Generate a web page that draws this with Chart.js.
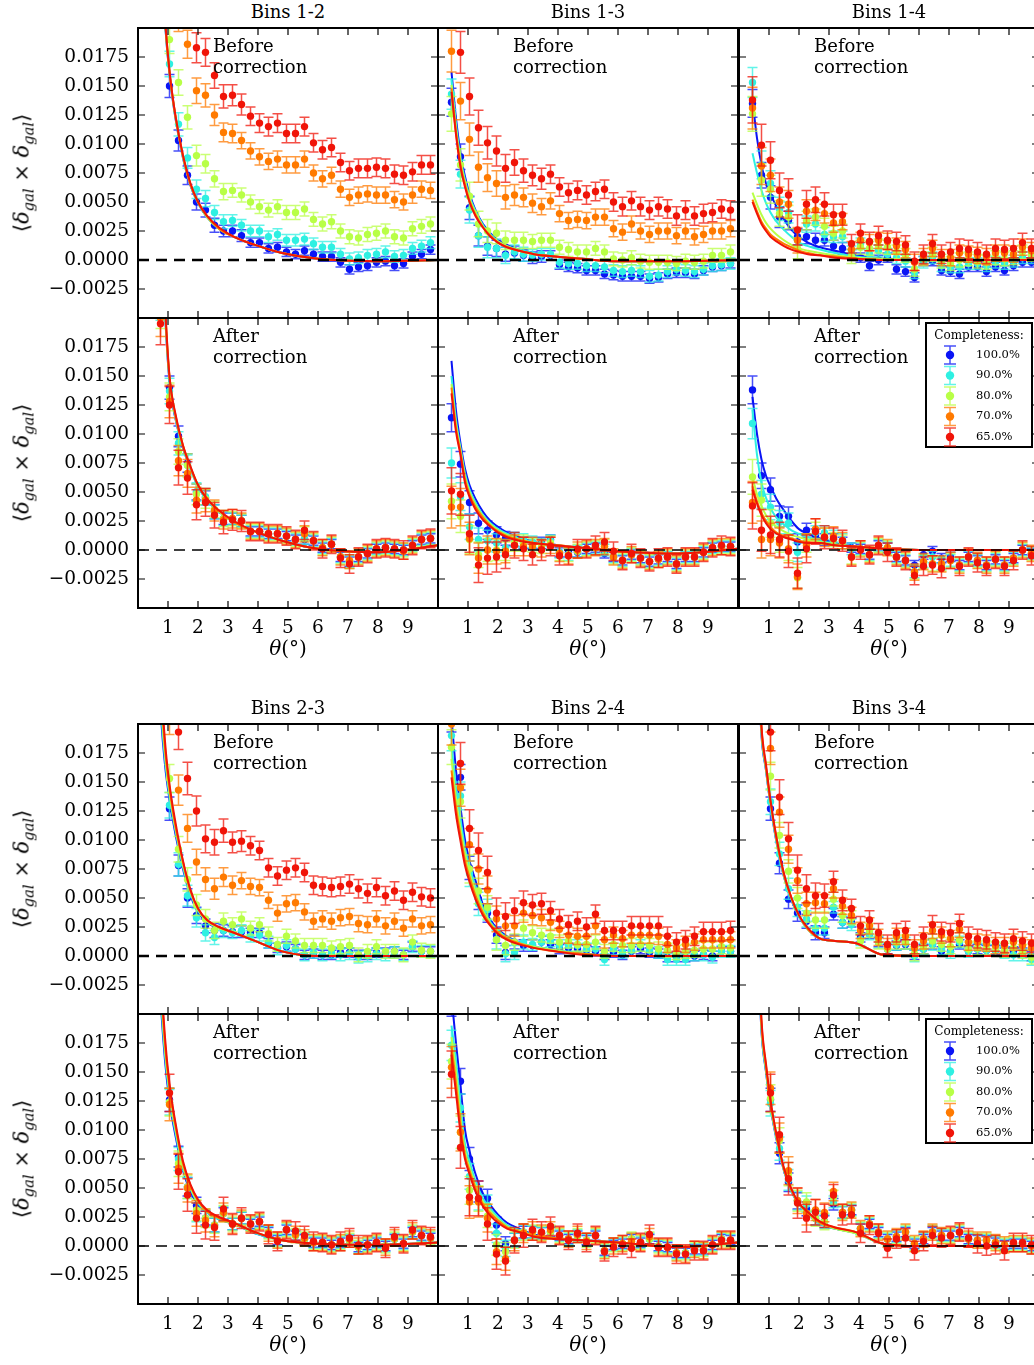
<!DOCTYPE html>
<html>
<head>
<meta charset="utf-8">
<script src="https://cdn.jsdelivr.net/npm/chart.js@4.4.1/dist/chart.umd.min.js"></script>
<style>
  html, body { margin: 0; padding: 0; background: #fff; }
  body { width: 1034px; height: 1365px; overflow: hidden; position: relative;
         font-family: 'DejaVu Serif', serif; color: #000; }
  canvas { position: absolute; }
  .txt { position: absolute; white-space: nowrap; font-size: 18px; line-height: 21px; }
  .center { transform: translateX(-50%); }
  .xtitle { font-size: 20px; }
  .ytitle { transform: translate(-50%, -50%) rotate(-90deg); font-size: 21px; }
  sub { font-size: 70%; vertical-align: -0.35em; line-height: 0; }
</style>
</head>
<body>
<script>
// ---- data (correlation values are in units of 1e-4) ----
const UNIT = 1e-4;
const theta = [0.45, 0.75, 1.05, 1.35, 1.65, 1.95, 2.25, 2.55, 2.85, 3.15, 3.45, 3.75, 4.05, 4.35, 4.65, 4.95,
               5.25, 5.55, 5.85, 6.15, 6.45, 6.75, 7.05, 7.35, 7.65, 7.95, 8.25, 8.55, 8.85, 9.15, 9.45, 9.75];
const fitTheta = [0.45, 0.6, 0.75, 0.9, 1.05, 1.25, 1.5, 1.75, 2.0, 2.3, 2.7, 3.2, 3.9, 4.8, 6.0, 8.0, 10.0];
const completeness = ['100.0%', '90.0%', '80.0%', '70.0%', '65.0%'];
const legendTitle = 'Completeness:';
const binPairs = ['Bins 1-2', 'Bins 1-3', 'Bins 1-4', 'Bins 2-3', 'Bins 2-4', 'Bins 3-4'];
const xRange = [0, 10];
const yRange = [-0.005, 0.02];
const xTicks = [1, 2, 3, 4, 5, 6, 7, 8, 9];
const yTicks = [-0.0025, 0, 0.0025, 0.005, 0.0075, 0.01, 0.0125, 0.015, 0.0175];

// error bar half sizes per completeness level
const errs = [
  [12, 11, 10, 9, 8, 7, 6, 6, 5, 5, 5, 4, 4, 4, 4, 4, 4, 4, 4, 4, 4, 4, 4, 4, 4, 4, 4, 4, 4, 4, 4, 4],
  [13, 12, 11, 10, 9, 8, 7, 6, 6, 5, 5, 5, 5, 5, 5, 5, 5, 5, 5, 5, 5, 5, 5, 5, 5, 5, 5, 5, 5, 5, 5, 5],
  [15, 14, 12, 11, 10, 9, 8, 7, 7, 6, 6, 6, 6, 6, 6, 6, 6, 6, 6, 6, 6, 6, 6, 6, 6, 6, 6, 6, 6, 6, 6, 6],
  [18, 16, 14, 13, 12, 11, 10, 9, 8, 8, 7, 7, 7, 7, 7, 7, 7, 7, 7, 7, 7, 7, 7, 7, 7, 7, 7, 7, 7, 7, 7, 7],
  [20, 18, 16, 15, 14, 13, 12, 11, 10, 9, 9, 8, 8, 8, 8, 8, 8, 8, 8, 8, 8, 8, 8, 8, 8, 8, 8, 8, 8, 8, 8, 8]
];

// measured points, one row per completeness level (100, 90, 80, 70, 65 %)
const before12 = [
  [320, 230, 150, 103, 73, 50, 43, 30, 25, 25, 21, 15, 15, 10, 11, 7, 5, 8, 5, 3, 3, -2, -8, -6, -5, -2, -1, -5, -3, 3, 5, 9],
  [300, 230, 169, 117, 88, 61, 53, 41, 33, 34, 30, 25, 25, 20, 22, 17, 17, 18, 14, 11, 11, 5, 1, 2, 4, 5, 7, 3, 4, 10, 12, 15],
  [280, 230, 190, 153, 123, 90, 83, 70, 59, 60, 56, 50, 46, 43, 46, 41, 41, 44, 35, 31, 33, 25, 20, 19, 22, 23, 25, 20, 19, 27, 29, 31],
  [300, 270, 240, 210, 186, 146, 142, 125, 110, 109, 103, 94, 89, 85, 87, 82, 82, 87, 75, 70, 73, 61, 54, 56, 57, 56, 56, 52, 50, 56, 61, 60],
  [340, 310, 280, 250, 215, 183, 179, 159, 141, 142, 134, 124, 118, 115, 118, 109, 109, 115, 101, 95, 97, 84, 77, 79, 79, 80, 79, 74, 73, 76, 82, 82]
];
const before13 = [
  [136, 89, 45, 21, 12, 10, 5, 6, 4, 2, 3, 4, -4, -6, -7, -9, -9, -12, -13, -14, -14, -14, -16, -15, -12, -11, -11, -12, -9, -6, -5, -3],
  [143, 74, 43, 21, 11, 10, 4, 7, 5, 4, 5, 5, -2, -3, -3, -5, -5, -6, -9, -10, -9, -10, -14, -13, -10, -8, -9, -10, -8, -5, -4, -3],
  [126, 82, 55, 31, 25, 23, 17, 17, 17, 16, 17, 17, 11, 9, 7, 7, 10, 7, 1, 0, 2, -1, -2, -2, -2, -3, -1, -2, -1, 4, 4, 7],
  [180, 137, 104, 80, 71, 66, 54, 56, 54, 49, 46, 51, 40, 34, 35, 34, 37, 37, 27, 24, 31, 25, 22, 25, 25, 21, 25, 20, 22, 25, 25, 27],
  [230, 179, 141, 114, 101, 94, 79, 84, 77, 73, 70, 74, 63, 58, 60, 56, 59, 61, 50, 46, 51, 46, 43, 46, 44, 38, 43, 38, 40, 41, 44, 43]
];
const before14 = [
  [135, 73, 54, 37, 34, 20, 20, 17, 17, 12, 10, 5, 2, -5, 0, 2, -8, -10, -15, -1, -1, -9, -10, -12, -6, -6, -10, -6, -9, -5, -2, -2],
  [153, 82, 66, 44, 41, 17, 31, 31, 22, 20, 20, 7, 14, 5, 8, 5, 2, -1, -11, -2, 2, -5, -6, -6, -3, -3, -5, -2, -3, -1, 2, 2],
  [126, 69, 61, 40, 37, 10, 34, 37, 29, 23, 25, 3, 11, 10, 12, 11, 7, 4, -8, 1, 5, -1, -3, 0, 1, -1, -2, 2, 1, 2, 7, 5],
  [131, 81, 73, 50, 48, 17, 42, 43, 40, 32, 33, 9, 17, 15, 17, 16, 12, 9, -2, 3, 10, 2, 2, 6, 5, 4, 3, 6, 6, 5, 11, 8],
  [138, 99, 86, 60, 56, 26, 48, 52, 48, 39, 39, 14, 23, 16, 21, 17, 16, 13, -1, 5, 14, 5, 7, 10, 9, 7, 5, 10, 9, 10, 15, 10]
];
const after12 = [
  [260, 215, 140, 98, 75, 50, 45, 33, 27, 27, 25, 16, 16, 14, 14, 12, 9, 9, 8, 2, 5, -6, -10, -6, -3, 1, 2, 1, 0, 4, 9, 10],
  [255, 210, 137, 92, 73, 50, 46, 33, 27, 27, 25, 16, 16, 14, 14, 12, 9, 10, 8, 2, 5, -6, -10, -6, -3, 1, 2, 1, 0, 4, 9, 10],
  [250, 205, 132, 85, 73, 48, 44, 35, 27, 27, 25, 16, 16, 14, 14, 12, 9, 14, 8, 2, 5, -6, -10, -6, -3, 1, 2, 1, 0, 4, 9, 10],
  [245, 200, 128, 77, 66, 43, 43, 34, 26, 27, 25, 16, 16, 14, 14, 12, 9, 14, 8, 2, 5, -6, -9, -6, -3, 1, 2, 1, -1, 4, 9, 10],
  [240, 195, 125, 71, 62, 39, 41, 30, 24, 26, 25, 16, 16, 14, 14, 12, 9, 17, 8, 1, 5, -7, -12, -6, -3, 1, 2, 1, 0, 4, 9, 10]
];
const after13 = [
  [114, 74, 41, 23, 17, 13, 10, 9, 6, 6, 6, 9, -2, -2, -2, 1, 2, -3, -6, -9, -4, -7, -10, -8, -6, -12, -6, -6, -2, 2, 3, 3],
  [75, 46, 20, 9, 8, 6, 2, 9, 8, 7, 5, 8, -2, -4, -1, 1, 2, 0, -6, -9, -4, -7, -10, -8, -6, -12, -6, -6, -2, 2, 3, 3],
  [42, 29, 9, -4, 0, 0, -1, 6, 6, 4, 3, 6, -3, -4, -1, 1, 2, 3, -6, -9, -4, -7, -10, -8, -6, -12, -6, -6, -2, 2, 3, 3],
  [37, 37, 10, -7, 0, -1, -1, 4, 3, 3, 1, 4, -3, -5, 0, 1, 2, 3, -6, -9, -4, -7, -10, -8, -6, -12, -6, -6, -2, 2, 3, 3],
  [51, 48, 14, -13, -7, -6, -4, 4, 1, -4, 0, 3, -5, -5, 1, 1, 4, 7, -1, -9, -3, -7, -10, -7, -6, -12, -6, -6, -2, 2, 4, 3]
];
const after14 = [
  [138, 64, 52, 29, 29, 7, 17, 12, 9, 9, 6, 2, 1, -4, 4, 2, -6, -9, -13, -4, -1, -7, -6, -13, -6, -9, -13, -8, -13, -7, 0, -3],
  [109, 48, 37, 24, 23, -2, 7, 15, 15, 12, 9, 1, 1, -4, 4, 2, -6, -9, -19, -10, -6, -12, -9, -13, -6, -9, -13, -8, -13, -7, 0, -3],
  [63, 43, 23, 9, 1, -24, 6, 17, 12, 9, 7, -6, 1, -4, 4, 2, -6, -9, -19, -10, -12, -12, -9, -13, -6, -9, -13, -8, -13, -7, 0, -3],
  [41, 9, 9, 6, 1, -23, 4, 18, 11, 12, 8, -6, 1, -4, 4, 2, -6, -9, -19, -10, -12, -12, -9, -13, -6, -9, -13, -8, -13, -7, 0, -3],
  [38, 17, 13, 9, -1, -20, 1, 16, 11, 10, 8, -6, 0, -4, 4, -2, -6, -9, -22, -14, -13, -16, -8, -14, -6, -11, -14, -8, -14, -9, 0, -5]
];
const before23 = [
  [350, 230, 127, 78, 50, 35, 26, 22, 22, 21, 21, 20, 20, 11, 7, 8, 6, 1, 2, 1, 1, 3, 3, 1, 1, 3, 3, 4, 1, 8, 4, 4],
  [350, 230, 130, 79, 52, 33, 20, 16, 22, 20, 22, 17, 18, 12, 6, 9, 6, 1, 3, 1, 3, 1, 2, -1, 0, 2, 1, 3, 1, 8, 4, 4],
  [300, 220, 153, 92, 66, 44, 32, 22, 30, 27, 32, 24, 27, 19, 10, 17, 13, 9, 9, 9, 7, 8, 9, 1, 4, 8, 4, 4, 1, 12, 5, 4],
  [330, 260, 205, 143, 110, 81, 66, 58, 68, 61, 65, 60, 59, 48, 37, 45, 46, 38, 30, 32, 30, 33, 34, 28, 27, 32, 26, 30, 24, 32, 26, 27],
  [320, 260, 220, 193, 153, 125, 101, 98, 108, 98, 99, 95, 91, 76, 69, 74, 76, 72, 61, 60, 59, 60, 62, 58, 54, 59, 52, 56, 48, 55, 51, 50]
];
const before24 = [
  [205, 154, 76, 49, 37, 18, 3, 12, 9, 9, 12, 10, 6, 7, 6, 5, 4, 1, 3, 1, 4, 6, 3, 2, -1, -1, -1, 0, 1, 0, 4, 4],
  [190, 138, 71, 45, 40, 14, 2, 3, 12, 10, 12, 13, 9, 9, 9, 6, 6, -3, 6, 3, 5, 9, 5, 3, -3, -3, -3, 1, 1, -1, 4, 4],
  [180, 133, 75, 56, 42, 14, 9, 12, 24, 20, 18, 17, 12, 13, 10, 10, 12, 4, 10, 9, 9, 10, 9, 6, 5, 3, 4, 5, 6, 6, 8, 7],
  [200, 145, 96, 75, 57, 32, 26, 26, 37, 35, 33, 29, 23, 18, 17, 17, 26, 14, 18, 15, 18, 18, 18, 17, 10, 7, 10, 12, 14, 14, 14, 14],
  [230, 166, 110, 91, 72, 37, 34, 39, 46, 44, 45, 39, 32, 27, 30, 25, 36, 22, 22, 22, 26, 26, 26, 26, 17, 12, 14, 17, 21, 21, 21, 22]
];
const before34 = [
  [300, 230, 127, 80, 49, 37, 30, 20, 20, 36, 29, 29, 16, 19, 12, 6, 9, 10, 1, 6, 10, 4, 4, 10, 4, 6, 5, 5, 3, 4, 3, 0],
  [300, 230, 133, 88, 58, 42, 32, 24, 24, 42, 29, 27, 14, 19, 12, 6, 10, 11, 0, 6, 10, 6, 3, 12, 4, 6, 5, 5, 3, 1, 1, -3],
  [300, 230, 155, 104, 73, 50, 37, 31, 31, 49, 35, 33, 13, 22, 12, 6, 12, 12, 2, 8, 13, 10, 8, 14, 6, 7, 7, 6, 5, 7, 4, -1],
  [310, 240, 179, 124, 92, 65, 45, 46, 45, 58, 43, 35, 22, 26, 16, 8, 17, 17, 7, 13, 22, 18, 15, 23, 12, 12, 11, 9, 9, 12, 9, 7],
  [320, 250, 193, 137, 101, 74, 58, 52, 52, 64, 48, 41, 26, 31, 20, 10, 20, 22, 10, 17, 27, 21, 20, 28, 17, 15, 14, 12, 11, 15, 13, 11]
];
const after23 = [
  [300, 230, 126, 77, 51, 35, 24, 18, 28, 19, 24, 19, 21, 12, 5, 14, 9, 6, 3, 3, 1, 3, 5, -1, 1, 3, 0, 6, 2, 12, 9, 7],
  [300, 230, 124, 75, 50, 29, 24, 18, 28, 19, 24, 19, 21, 12, 5, 14, 9, 6, 3, 3, 1, 3, 5, -1, 1, 3, 0, 6, 2, 12, 9, 7],
  [300, 230, 124, 71, 51, 31, 24, 18, 28, 19, 24, 19, 21, 12, 5, 14, 9, 6, 3, 3, 1, 3, 5, -1, 1, 3, 0, 6, 2, 12, 9, 7],
  [300, 230, 122, 67, 50, 28, 22, 17, 29, 19, 24, 19, 21, 11, 5, 14, 10, 7, 3, 3, 1, 3, 6, 0, 1, 3, -1, 7, 2, 13, 9, 7],
  [300, 230, 132, 64, 44, 24, 18, 16, 32, 19, 24, 19, 21, 10, 4, 14, 13, 9, 4, 3, 1, 4, 7, 1, 1, 3, -2, 8, 2, 14, 9, 8]
];
const after24 = [
  [210, 142, 75, 47, 41, 18, 2, 5, 12, 12, 11, 12, 9, 6, 9, 5, 9, -4, 1, 2, 6, 3, 6, 0, -1, -6, -6, -3, -3, 1, 6, 5],
  [173, 119, 60, 41, 35, 11, -2, 5, 12, 12, 11, 12, 9, 6, 9, 5, 9, -4, 1, 2, 6, 3, 6, 0, -1, -6, -6, -3, -3, 1, 6, 5],
  [159, 98, 48, 41, 26, 1, -5, 5, 12, 12, 11, 12, 9, 6, 9, 5, 9, -4, 1, 2, 6, 3, 6, 0, -1, -6, -6, -3, -3, 1, 6, 5],
  [154, 98, 38, 38, 24, -5, -11, 5, 11, 13, 11, 14, 9, 6, 10, 4, 9, -4, 0, 2, 4, 3, 8, -1, -1, -6, -7, -3, -4, 1, 5, 5],
  [148, 85, 42, 41, 19, -7, -13, 5, 9, 14, 12, 17, 9, 5, 11, 3, 9, -5, -1, 1, -2, 3, 10, -1, -1, -7, -7, -4, -4, 1, 5, 5]
];
const after34 = [
  [300, 230, 126, 80, 55, 39, 32, 24, 21, 36, 29, 31, 15, 19, 12, 6, 8, 12, 2, 6, 12, 9, 9, 12, 6, 5, 5, 3, 1, 2, 2, 0],
  [300, 230, 123, 84, 57, 39, 36, 24, 21, 38, 29, 31, 15, 19, 12, 6, 8, 12, 2, 6, 12, 9, 9, 12, 6, 5, 5, 3, 1, 2, 2, 0],
  [300, 230, 127, 91, 62, 39, 38, 24, 21, 42, 29, 31, 15, 19, 12, 6, 8, 12, 2, 6, 12, 9, 9, 12, 6, 5, 5, 3, 1, 2, 2, 0],
  [300, 230, 136, 93, 65, 39, 28, 31, 29, 47, 29, 31, 15, 19, 12, 6, 8, 12, 2, 6, 12, 9, 9, 12, 6, 5, 5, 3, 1, 2, 2, 0],
  [300, 230, 132, 96, 58, 37, 24, 29, 26, 44, 27, 27, 11, 18, 11, -2, 6, 7, -4, 4, 9, 7, 9, 12, 7, 2, 0, 1, -4, 3, 3, 1]
];

// model curves sampled at fitTheta
const fitB12 = [
  [520, 380, 280, 205, 160, 122, 88, 64, 49, 37, 27, 20, 13, 6, 1, -1, 0],
  [522, 381, 281, 206, 161, 123, 89, 65, 49, 37, 27, 20, 13, 6, 1, -1, 0],
  [524, 382, 282, 207, 162, 123, 89, 65, 50, 37, 27, 20, 13, 6, 1, -1, 0],
  [526, 383, 283, 208, 162, 124, 90, 65, 50, 38, 27, 20, 13, 6, 1, -1, 0],
  [528, 384, 284, 209, 163, 124, 90, 66, 50, 38, 28, 20, 13, 6, 1, -1, 0]
];
const fitB13 = [
  [162, 122, 92, 72, 57, 43, 31, 23, 17, 13, 9, 6, 3, 1, -1, -1, 0],
  [156, 117, 88, 69, 55, 42, 30, 22, 16, 12, 9, 6, 3, 1, -1, -1, 0],
  [151, 113, 85, 67, 53, 41, 29, 21, 16, 12, 8, 5, 3, 1, -1, -1, 0],
  [148, 110, 82, 65, 51, 39, 28, 21, 15, 11, 8, 5, 3, 1, -1, -1, 0],
  [145, 108, 80, 63, 50, 38, 28, 20, 15, 11, 8, 5, 3, 1, -1, -1, 0]
];
const fitB14 = [
  [138, 105, 82, 66, 57, 46, 35, 26, 20, 15, 11, 8, 4, 1, 0, 0, 0],
  [92, 75, 60, 49, 41, 33, 26, 20, 15, 12, 9, 6, 3, 1, 0, 0, 0],
  [58, 48, 39, 32, 27, 22, 17, 13, 10, 8, 6, 4, 2, 1, 0, 0, 0],
  [52, 42, 33, 27, 22, 18, 14, 11, 8, 6, 4, 3, 1, 0, 0, 0, 0],
  [50, 40, 31, 25, 20, 16, 12, 9, 7, 5, 4, 2, 1, 0, 0, 0, 0]
];
const fitA12 = [
  [600, 430, 300, 205, 145, 113, 88, 70, 55, 43, 33, 24, 16, 8, 1, -2, 4],
  [603, 432, 302, 207, 147, 114, 89, 70, 55, 43, 33, 24, 16, 8, 1, -2, 4],
  [606, 434, 304, 209, 148, 115, 89, 71, 56, 44, 33, 24, 16, 8, 1, -2, 4],
  [609, 436, 306, 211, 149, 116, 90, 71, 56, 44, 34, 24, 16, 8, 1, -2, 4],
  [612, 438, 308, 213, 150, 117, 90, 72, 56, 44, 34, 25, 16, 8, 1, -2, 4]
];
const fitA13 = [
  [163, 120, 92, 70, 56, 44, 33, 25, 20, 15, 11, 7, 4, 2, -1, -3, 1],
  [150, 112, 88, 66, 52, 41, 30, 23, 18, 14, 10, 7, 4, 2, -1, -3, 1],
  [143, 108, 86, 63, 50, 39, 29, 22, 17, 13, 9, 6, 4, 2, -1, -3, 1],
  [140, 105, 84, 61, 48, 37, 28, 21, 16, 12, 9, 6, 4, 2, -1, -3, 1],
  [135, 102, 82, 58, 46, 35, 26, 20, 15, 11, 8, 6, 4, 2, -1, -3, 1]
];
const fitA14 = [
  [132, 100, 78, 64, 55, 44, 34, 25, 18, 14, 10, 6, 3, 1, 0, 0, 0],
  [121, 82, 58, 45, 36, 28, 22, 17, 14, 11, 8, 5, 3, 1, 0, 0, 0],
  [63, 48, 38, 30, 25, 20, 16, 13, 11, 9, 7, 5, 3, 1, 0, 0, 0],
  [55, 42, 32, 25, 20, 15, 12, 10, 8, 7, 6, 4, 3, 1, 0, 0, 0],
  [52, 40, 30, 23, 18, 14, 11, 9, 7, 6, 6, 4, 3, 1, 0, 0, 0]
];
const fitB23 = [
  [500, 320, 215, 165, 135, 105, 75, 52, 38, 29, 24, 20, 13, 4, 0, 0, 0],
  [520, 330, 222, 170, 138, 108, 77, 54, 39, 30, 24, 20, 13, 4, 0, 0, 0],
  [540, 345, 232, 175, 141, 110, 79, 55, 40, 30, 24, 20, 13, 4, 0, 0, 0],
  [570, 362, 242, 180, 145, 112, 81, 56, 41, 31, 25, 20, 13, 4, 0, 0, 0],
  [600, 380, 250, 185, 148, 115, 82, 57, 41, 31, 25, 20, 13, 4, 0, 0, 0]
];
const fitB24 = [
  [205, 160, 128, 100, 82, 65, 44, 31, 23, 17, 12, 8, 5, 2, 0, 0, 0],
  [182, 145, 118, 93, 77, 60, 41, 29, 22, 16, 12, 8, 5, 2, 0, 0, 0],
  [170, 135, 110, 88, 72, 56, 39, 28, 21, 15, 11, 8, 5, 2, 0, 0, 0],
  [160, 128, 104, 82, 68, 52, 37, 27, 20, 15, 11, 7, 4, 2, 0, 0, 0],
  [154, 122, 99, 78, 64, 49, 35, 26, 19, 14, 10, 7, 4, 1, 0, 0, 0]
];
const fitB34 = [
  [400, 275, 190, 160, 130, 98, 68, 48, 34, 23, 15, 13, 11, 1, 0, 0, 0],
  [405, 278, 192, 161, 131, 99, 69, 49, 34, 23, 15, 13, 11, 1, 0, 0, 0],
  [410, 281, 194, 162, 132, 100, 69, 49, 35, 23, 15, 13, 11, 1, 0, 0, 0],
  [415, 284, 196, 163, 133, 101, 70, 50, 35, 23, 15, 13, 11, 1, 0, 0, 0],
  [420, 287, 198, 165, 134, 102, 71, 50, 35, 24, 15, 13, 11, 1, 0, 0, 0]
];
const fitA23 = [
  [480, 310, 215, 160, 125, 95, 65, 47, 36, 29, 23, 19, 11, 5, 2, 1, 3],
  [500, 322, 222, 165, 129, 98, 67, 49, 37, 29, 23, 19, 11, 5, 2, 1, 3],
  [520, 335, 230, 170, 133, 101, 69, 50, 38, 30, 24, 19, 12, 5, 2, 1, 3],
  [540, 348, 238, 175, 137, 104, 71, 52, 39, 30, 24, 20, 12, 5, 2, 1, 3],
  [560, 360, 245, 180, 140, 106, 73, 53, 40, 31, 25, 20, 12, 5, 2, 1, 3]
];
const fitA24 = [
  [215, 175, 138, 100, 82, 62, 45, 35, 27, 20, 15, 10, 7, 5, 3, -1, 3],
  [190, 160, 120, 88, 73, 56, 41, 32, 25, 18, 14, 9, 7, 5, 3, -1, 3],
  [180, 150, 110, 82, 68, 52, 38, 30, 23, 17, 13, 9, 7, 5, 3, -1, 3],
  [172, 140, 104, 78, 65, 50, 36, 28, 22, 16, 12, 9, 7, 5, 3, -1, 3],
  [165, 132, 98, 75, 62, 47, 34, 26, 20, 15, 12, 8, 6, 5, 3, -1, 3]
];
const fitA34 = [
  [420, 280, 185, 150, 120, 92, 65, 47, 36, 28, 19, 15, 11, 2, 0, 0, 0],
  [425, 283, 187, 151, 121, 93, 65, 47, 36, 28, 19, 15, 11, 2, 0, 0, 0],
  [430, 286, 189, 153, 122, 94, 66, 48, 36, 28, 20, 15, 11, 2, 0, 0, 0],
  [435, 290, 192, 155, 124, 95, 66, 48, 37, 29, 20, 16, 12, 2, 0, 0, 0],
  [440, 295, 195, 157, 126, 96, 67, 49, 37, 29, 21, 16, 12, 2, 0, 0, 0]
];

// ---- look ----
const colors = ['#0a14f5', '#2ef0e2', '#b8ff46', '#ff7a00', '#f01408'];
const colLeft = [138, 438, 739];
const rowTop = [28, 318, 724, 1014];
const boxW = 300, boxH = 290;
const padL = 138, padB = 46, m = 3;

Chart.defaults.font.family = "'DejaVu Serif', serif";
Chart.defaults.color = '#000';

function rgba(hex, a) {
  const n = parseInt(hex.slice(1), 16);
  return `rgba(${n >> 16}, ${(n >> 8) & 255}, ${n & 255}, ${a})`;
}

function fmtY(v) {
  const s = Math.abs(v).toFixed(4);
  return v < -1e-9 ? '\u2212' + s : s;
}

// error bars drawn just under each scatter dataset
const errorBars = {
  id: 'errorBars',
  beforeDatasetDraw(chart, args) {
    const ds = chart.data.datasets[args.index];
    if (!ds.errors) return;
    const { ctx, chartArea: a, scales: { x, y } } = chart;
    ctx.save();
    ctx.beginPath();
    ctx.rect(a.left, a.top, a.right - a.left, a.bottom - a.top);
    ctx.clip();
    ctx.strokeStyle = rgba(ds.pointBackgroundColor, 0.75);
    ctx.lineWidth = 1.5;
    ctx.beginPath();
    ds.data.forEach((p, i) => {
      const px = x.getPixelForValue(p.x);
      const lo = y.getPixelForValue(p.y - ds.errors[i]);
      const hi = y.getPixelForValue(p.y + ds.errors[i]);
      ctx.moveTo(px, lo); ctx.lineTo(px, hi);
      ctx.moveTo(px - 5, lo); ctx.lineTo(px + 5, lo);
      ctx.moveTo(px - 5, hi); ctx.lineTo(px + 5, hi);
    });
    ctx.stroke();
    ctx.restore();
  }
};

function drawLegend(chart) {
  const { ctx, chartArea: a } = chart;
  const lx = a.left + 187, ly = a.top + 5, lw = 106, lh = 124;
  ctx.save();
  ctx.fillStyle = '#fff';
  ctx.fillRect(lx, ly, lw, lh);
  ctx.strokeStyle = '#000';
  ctx.lineWidth = 2;
  ctx.strokeRect(lx, ly, lw, lh);
  ctx.fillStyle = '#000';
  ctx.textBaseline = 'middle';
  ctx.textAlign = 'center';
  ctx.font = "12px 'DejaVu Serif'";
  ctx.fillText(legendTitle, lx + lw / 2, ly + 13);
  ctx.textAlign = 'left';
  ctx.font = "11.5px 'DejaVu Serif'";
  chart.data.datasets.filter(d => d.errors).forEach((d, k) => {
    const cy = ly + 32 + k * 20.5, cx = lx + 24;
    ctx.strokeStyle = rgba(d.pointBackgroundColor, 0.75);
    ctx.lineWidth = 1.5;
    ctx.beginPath();
    ctx.moveTo(cx, cy - 9); ctx.lineTo(cx, cy + 9);
    ctx.moveTo(cx - 6, cy - 9); ctx.lineTo(cx + 6, cy - 9);
    ctx.moveTo(cx - 6, cy + 9); ctx.lineTo(cx + 6, cy + 9);
    ctx.stroke();
    ctx.fillStyle = d.pointBackgroundColor;
    ctx.beginPath();
    ctx.arc(cx, cy, 4.2, 0, Math.PI * 2);
    ctx.fill();
    ctx.fillStyle = '#000';
    ctx.fillText(d.label, lx + 50, cy);
  });
  ctx.restore();
}

// inward ticks on all four sides, the frame, and the legend box
const frame = {
  id: 'frame',
  afterDraw(chart, args, opts) {
    const { ctx, chartArea: a, scales: { x, y } } = chart;
    ctx.save();
    ctx.strokeStyle = '#000';
    ctx.lineWidth = 1.2;
    ctx.beginPath();
    xTicks.forEach(v => {
      const px = x.getPixelForValue(v);
      ctx.moveTo(px, a.bottom); ctx.lineTo(px, a.bottom - 7);
      ctx.moveTo(px, a.top); ctx.lineTo(px, a.top + 7);
    });
    yTicks.forEach(v => {
      const py = y.getPixelForValue(v);
      ctx.moveTo(a.left, py); ctx.lineTo(a.left + 7, py);
      ctx.moveTo(a.right, py); ctx.lineTo(a.right - 7, py);
    });
    ctx.stroke();
    ctx.lineWidth = 2;
    ctx.strokeRect(a.left, a.top, a.right - a.left, a.bottom - a.top);
    ctx.restore();
    if (opts.legend) drawLegend(chart);
  }
};

const panels = [
  { title: binPairs[0], pts: before12, fit: fitB12, col: 0, row: 0, after: false },
  { title: binPairs[1], pts: before13, fit: fitB13, col: 1, row: 0, after: false },
  { title: binPairs[2], pts: before14, fit: fitB14, col: 2, row: 0, after: false },
  { pts: after12, fit: fitA12, col: 0, row: 1, after: true },
  { pts: after13, fit: fitA13, col: 1, row: 1, after: true },
  { pts: after14, fit: fitA14, col: 2, row: 1, after: true, legend: true },
  { title: binPairs[3], pts: before23, fit: fitB23, col: 0, row: 2, after: false },
  { title: binPairs[4], pts: before24, fit: fitB24, col: 1, row: 2, after: false },
  { title: binPairs[5], pts: before34, fit: fitB34, col: 2, row: 2, after: false },
  { pts: after23, fit: fitA23, col: 0, row: 3, after: true },
  { pts: after24, fit: fitA24, col: 1, row: 3, after: true },
  { pts: after34, fit: fitA34, col: 2, row: 3, after: true, legend: true }
];

function addText(html, x, y, cls) {
  const d = document.createElement('div');
  d.className = 'txt ' + (cls || '');
  d.innerHTML = html;
  d.style.left = x + 'px';
  d.style.top = y + 'px';
  document.body.appendChild(d);
}

function makePanel(p) {
  const left = colLeft[p.col], top = rowTop[p.row];
  const showY = p.col === 0, showX = p.row % 2 === 1;
  const cLeft = showY ? left - padL : left - m;
  const cv = document.createElement('canvas');
  cv.width = (left - cLeft) + boxW + m;
  cv.height = m + boxH + (showX ? padB : m);
  cv.style.left = cLeft + 'px';
  cv.style.top = (top - m) + 'px';
  document.body.appendChild(cv);

  const datasets = [];
  for (let s = 0; s < completeness.length; s++) {
    datasets.push({
      label: completeness[s] + ' model',
      data: fitTheta.map((t, k) => ({ x: t, y: p.fit[s][k] * UNIT })),
      showLine: true,
      borderColor: colors[s],
      borderWidth: 2,
      pointRadius: 0,
      cubicInterpolationMode: 'monotone',
      clip: 0,
      order: 10 - 2 * s
    });
    datasets.push({
      label: completeness[s],
      data: theta.map((t, i) => ({ x: t, y: p.pts[s][i] * UNIT })),
      errors: errs[s].map(e => e * UNIT),
      showLine: false,
      pointRadius: 3.7,
      pointBackgroundColor: colors[s],
      pointBorderColor: colors[s],
      pointBorderWidth: 0,
      clip: 0,
      order: 9 - 2 * s
    });
  }
  datasets.push({
    label: 'zero',
    data: xRange.map(v => ({ x: v, y: 0 })),
    showLine: true,
    borderColor: '#000',
    borderWidth: p.after ? 1.6 : 2.6,
    borderDash: [11, 7],
    pointRadius: 0,
    clip: 0,
    order: 0
  });

  new Chart(cv, {
    type: 'scatter',
    data: { datasets },
    options: {
      responsive: false,
      animation: false,
      devicePixelRatio: 1,
      events: [],
      layout: {
        autoPadding: false,
        padding: { left: showY ? 0 : m, right: m, top: m, bottom: showX ? 0 : m }
      },
      scales: {
        x: {
          type: 'linear', min: xRange[0], max: xRange[1],
          display: showX,
          afterBuildTicks: s => { s.ticks = xTicks.map(v => ({ value: v })); },
          afterFit: s => { s.height = showX ? padB : 0; s.paddingLeft = 0; s.paddingRight = 0; },
          grid: { display: false, drawTicks: false },
          border: { display: false },
          ticks: { font: { size: 18.5 }, padding: 9, autoSkip: false, maxRotation: 0 }
        },
        y: {
          type: 'linear', min: yRange[0], max: yRange[1],
          display: showY,
          afterBuildTicks: s => { s.ticks = yTicks.map(v => ({ value: v })); },
          afterFit: s => { s.width = showY ? padL : 0; s.paddingTop = 0; s.paddingBottom = 0; },
          grid: { display: false, drawTicks: false },
          border: { display: false },
          ticks: { font: { size: 18.5 }, padding: 9, autoSkip: false, callback: fmtY }
        }
      },
      plugins: {
        legend: { display: false },
        tooltip: { enabled: false },
        frame: { legend: !!p.legend }
      }
    },
    plugins: [errorBars, frame]
  });

  // text around the panel
  const cx = left + boxW / 2;
  if (p.title) addText(p.title, cx, top - 27, 'center');
  addText((p.after ? 'After' : 'Before') + '<br>correction', left + 75, top + 7);
  if (showY) addText('\u27E8<i>\u03B4</i><sub><i>gal</i></sub> \u00D7 <i>\u03B4</i><sub><i>gal</i></sub>\u27E9', 22, top + boxH / 2, 'ytitle');
  if (showX) addText('<i>\u03B8</i>(\u00B0)', cx, top + boxH + 30, 'center xtitle');
}

panels.forEach(makePanel);
</script>
</body>
</html>
